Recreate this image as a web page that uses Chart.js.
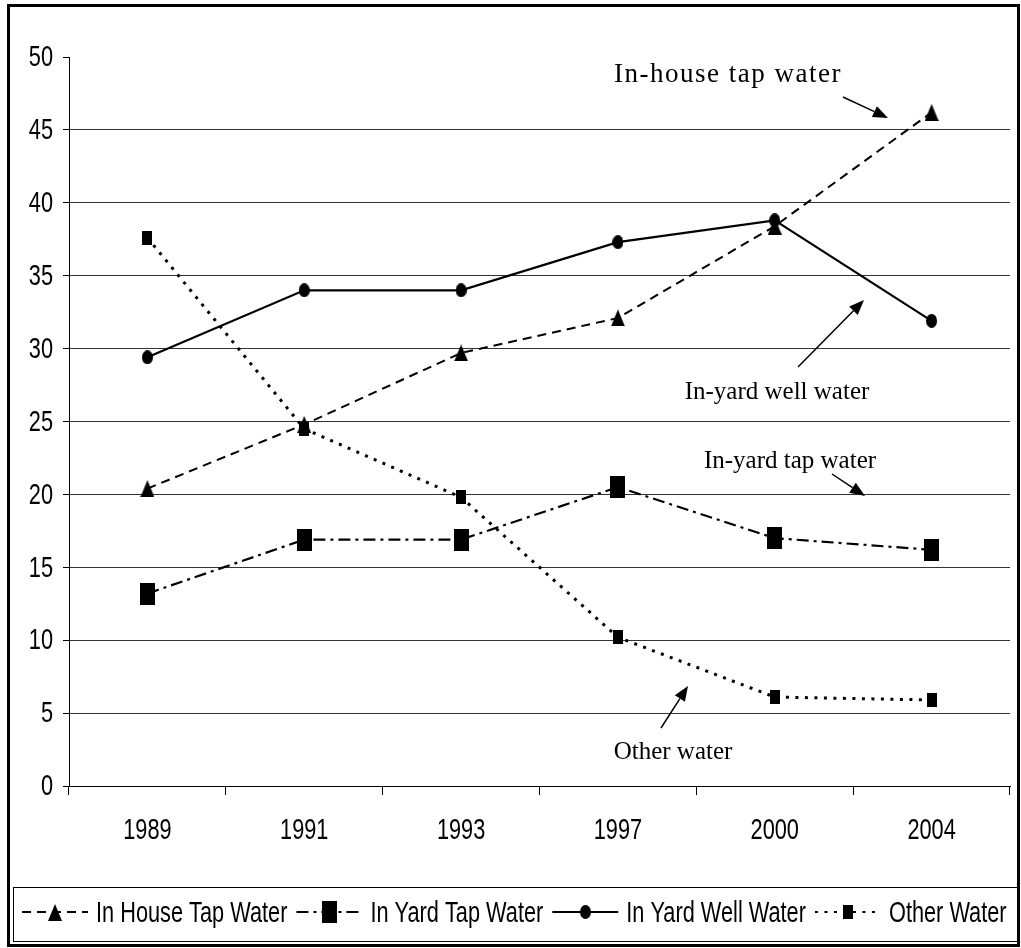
<!DOCTYPE html>
<html>
<head>
<meta charset="utf-8">
<title>Drinking water sources, 1989–2004</title>
<script src="https://cdn.jsdelivr.net/npm/chart.js@4.4.1/dist/chart.umd.min.js"></script>
<style>
  html, body { margin: 0; padding: 0; background: #fff; }
  #wrap { position: relative; width: 1021px; height: 948px; }
  canvas { display: block; }
</style>
</head>
<body>
<div id="wrap"><canvas id="chart" width="1021" height="948"></canvas></div>
<script>
// Survey years and the share of households (%) using each water source
const categories = ['1989', '1991', '1993', '1997', '2000', '2004'];
const houseTap   = [20.4, 24.8, 29.7, 32.1, 38.4, 46.2];
const yardTap    = [13.2, 16.9, 16.9, 20.5, 17.0, 16.2];
const yardWell   = [29.4, 34.0, 34.0, 37.3, 38.8, 31.9];
const otherWater = [37.6, 24.5, 19.8, 10.2, 6.1, 5.9];
const seriesNames = ['In House Tap Water', 'In Yard Tap Water', 'In Yard Well Water', 'Other Water'];
const yTickValues = [0, 5, 10, 15, 20, 25, 30, 35, 40, 45, 50];

// Text callouts with their arrows (pixel positions on the canvas)
const callouts = [
  { text: 'In-house tap water', x: 842, y: 75,  size: 27, spacing: 1.5, align: 'right',  from: [843, 97],  to: [888, 118] },
  { text: 'In-yard well water', x: 777, y: 392, size: 25, spacing: 0,   align: 'center', from: [798, 367], to: [864, 300] },
  { text: 'In-yard tap water',  x: 790, y: 461, size: 25, spacing: 0,   align: 'center', from: [832, 474], to: [865, 496] },
  { text: 'Other water',        x: 673, y: 752, size: 25, spacing: 0,   align: 'center', from: [661, 728], to: [688, 686] }
];

const SANS = '"Liberation Sans", Arial, sans-serif';
const SERIF = '"Liberation Serif", "Times New Roman", serif';
const LABEL_FONT = '30px ' + SANS;
const NARROW = 0.725;   // horizontal squeeze for the condensed label face

// Marker images, drawn once and used as point styles
function makeMarker(w, h, draw) {
  const c = document.createElement('canvas');
  c.width = w; c.height = h;
  const g = c.getContext('2d');
  g.fillStyle = '#000';
  draw(g, w, h);
  return c;
}
const triMarker = makeMarker(14, 17, (g, w, h) => {
  g.beginPath(); g.moveTo(w / 2, 0); g.lineTo(w, h); g.lineTo(0, h); g.closePath(); g.fill();
});
const bigRectMarker = makeMarker(15, 22, (g, w, h) => g.fillRect(0, 0, w, h));
const dotMarker = makeMarker(11, 14, (g, w, h) => {
  g.beginPath(); g.ellipse(w / 2, h / 2, w / 2, h / 2, 0, 0, Math.PI * 2); g.fill();
});
const smallRectMarker = makeMarker(10, 14, (g, w, h) => g.fillRect(0, 0, w, h));

function lineSeries(label, data, dash, marker, width) {
  return {
    label, data,
    borderColor: '#000', backgroundColor: '#000',
    borderWidth: width, borderDash: dash,
    tension: 0, fill: false,
    pointStyle: marker, pointRadius: 8, pointHoverRadius: 8
  };
}

const datasets = [
  lineSeries(seriesNames[0], houseTap,   [9, 6],        triMarker,       2),
  lineSeries(seriesNames[1], yardTap,    [12, 5, 3, 5], bigRectMarker,   2.2),
  lineSeries(seriesNames[2], yardWell,   [],            dotMarker,       2.2),
  lineSeries(seriesNames[3], otherWater, [3, 6.5],      smallRectMarker, 3)
];

function squeezedText(ctx, text, x, y, align) {
  const w = ctx.measureText(text).width * NARROW;
  let left = x;
  if (align === 'right') left = x - w;
  else if (align === 'center') left = x - w / 2;
  ctx.save();
  ctx.translate(left, y);
  ctx.scale(NARROW, 1);
  ctx.textAlign = 'left';
  ctx.fillText(text, 0, 0);
  ctx.restore();
  return w;
}

// Page frame, axis labels, callouts and the boxed legend
const decorations = {
  id: 'decorations',
  beforeDraw(chart) {
    const ctx = chart.ctx;
    ctx.save();
    ctx.fillStyle = '#fff';
    ctx.fillRect(0, 0, chart.width, chart.height);
    ctx.restore();
  },
  afterDraw(chart) {
    const ctx = chart.ctx;
    const xs = chart.scales.x, ys = chart.scales.y;
    ctx.save();
    ctx.fillStyle = '#000';

    // axis tick labels, taken from the scales
    ctx.font = LABEL_FONT;
    ctx.textBaseline = 'middle';
    ys.ticks.forEach((t, i) => {
      squeezedText(ctx, String(t.value), 53, ys.getPixelForTick(i) + 1, 'right');
    });
    xs.ticks.forEach((t, i) => {
      squeezedText(ctx, String(chart.data.labels[i]), xs.getPixelForTick(i), 831, 'center');
    });

    // callouts
    ctx.textBaseline = 'middle';
    callouts.forEach(c => {
      ctx.save();
      ctx.font = c.size + 'px ' + SERIF;
      ctx.textAlign = c.align;
      if ('letterSpacing' in ctx) ctx.letterSpacing = c.spacing + 'px';
      ctx.fillText(c.text, c.x, c.y);
      ctx.restore();
      const [x0, y0] = c.from, [x1, y1] = c.to;
      const ang = Math.atan2(y1 - y0, x1 - x0);
      const headLen = 15, headHalf = 6;
      const bx = x1 - headLen * Math.cos(ang), by = y1 - headLen * Math.sin(ang);
      ctx.strokeStyle = '#000';
      ctx.lineWidth = 1.5;
      ctx.setLineDash([]);
      ctx.beginPath(); ctx.moveTo(x0, y0); ctx.lineTo(bx, by); ctx.stroke();
      ctx.beginPath();
      ctx.moveTo(x1, y1);
      ctx.lineTo(bx + headHalf * Math.sin(ang), by - headHalf * Math.cos(ang));
      ctx.lineTo(bx - headHalf * Math.sin(ang), by + headHalf * Math.cos(ang));
      ctx.closePath(); ctx.fill();
    });

    // legend box
    ctx.strokeStyle = '#000';
    ctx.lineWidth = 1;
    ctx.strokeRect(13.5, 887.5, 1005, 54);

    ctx.font = LABEL_FONT;
    ctx.textBaseline = 'alphabetic';
    let x = 22;
    const yMid = 912, sampleW = 66;
    chart.data.datasets.forEach(ds => {
      ctx.strokeStyle = ds.borderColor;
      ctx.lineWidth = Math.min(ds.borderWidth, 2.2);
      ctx.setLineDash(ds.borderDash || []);
      ctx.beginPath(); ctx.moveTo(x, yMid); ctx.lineTo(x + sampleW, yMid); ctx.stroke();
      ctx.setLineDash([]);
      const m = ds.pointStyle;
      ctx.drawImage(m, Math.round(x + sampleW / 2 - m.width / 2), Math.round(yMid - m.height / 2));
      x += sampleW + 8;
      x += squeezedText(ctx, ds.label, x, 922, 'left') + 9;
    });

    // outer frame
    ctx.strokeStyle = '#000';
    ctx.lineWidth = 3;
    ctx.strokeRect(8.5, 5.5, 1010, 940);
    ctx.restore();
  }
};

new Chart(document.getElementById('chart'), {
  type: 'line',
  data: { labels: categories, datasets },
  options: {
    responsive: false,
    animation: false,
    devicePixelRatio: 1,
    layout: { padding: { top: 57, right: 6, left: 0, bottom: 0 } },
    plugins: { legend: { display: false }, tooltip: { enabled: false } },
    scales: {
      x: {
        offset: true,
        grid: {
          offset: true, drawOnChartArea: false, drawTicks: true,
          tickLength: 9, tickColor: '#000', tickWidth: 1
        },
        border: { color: '#000', width: 1 },
        ticks: { display: false },
        afterFit(scale) { scale.height = 162; }
      },
      y: {
        min: 0, max: 50,
        afterBuildTicks(scale) { scale.ticks = yTickValues.map(v => ({ value: v })); },
        grid: {
          color: ctx => (ctx.tick && (ctx.tick.value === 50 || ctx.tick.value === 0)) ? 'rgba(0,0,0,0)' : '#333',
          lineWidth: 1, tickLength: 6, tickColor: '#000', tickWidth: 1
        },
        border: { color: '#000', width: 1 },
        ticks: { display: false },
        afterFit(scale) { scale.width = 69; }
      }
    }
  },
  plugins: [decorations]
});
</script>
</body>
</html>
